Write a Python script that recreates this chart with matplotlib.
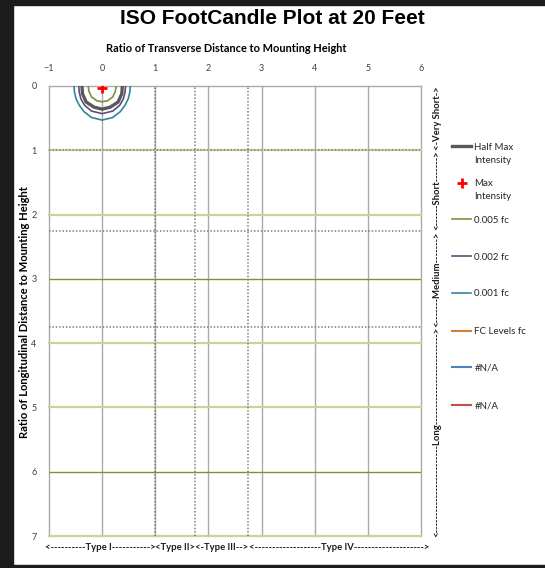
#!/usr/bin/env python3
"""ISO footcandle plot at 20 ft, redrawn as a static matplotlib figure."""
import matplotlib
matplotlib.use("Agg")
import matplotlib.pyplot as plt
from matplotlib.patches import Rectangle

# --- data ------------------------------------------------------------------
x_ticks = [-1, 0, 1, 2, 3, 4, 5, 6]
y_ticks = [0, 1, 2, 3, 4, 5, 6, 7]

# iso-footcandle contours (transverse ratio, longitudinal ratio)
fc001_x = [-0.53, -0.52, -0.49, -0.43, -0.34, -0.20, 0.0, 0.20, 0.34, 0.43, 0.49, 0.52, 0.53]
fc001_y = [0.0, 0.10, 0.20, 0.30, 0.40, 0.49, 0.53, 0.49, 0.40, 0.30, 0.20, 0.10, 0.0]
fc002_x = [-0.44, -0.43, -0.40, -0.33, -0.20, 0.0, 0.20, 0.33, 0.40, 0.43, 0.44]
fc002_y = [0.0, 0.10, 0.20, 0.30, 0.39, 0.43, 0.39, 0.30, 0.20, 0.10, 0.0]
half_max_x = [-0.38, -0.37, -0.30, -0.15, 0.0, 0.15, 0.30, 0.37, 0.38]
half_max_y = [0.0, 0.12, 0.25, 0.33, 0.36, 0.33, 0.25, 0.12, 0.0]
fc005_x = [-0.26, -0.25, -0.20, -0.10, 0.0, 0.10, 0.20, 0.25, 0.26]
fc005_y = [0.0, 0.08, 0.17, 0.23, 0.245, 0.23, 0.17, 0.08, 0.0]
max_x = [0.0]
max_y = [0.036]

# horizontal level lines (light / dark green) and the dotted classification lines
light_rows = [1, 2, 4, 5, 7]
dark_rows = [3, 6]
dotted_x = [1, 1.75, 2.75]
dotted_y = [1, 2.25, 3.75]

# lateral types along the bottom, longitudinal zones down the right side
type_labels = ["Type I", "Type II", "Type III", "Type IV"]
type_bounds = [-1.07, 1, 1.75, 2.75, 6.17]
zone_labels = ["Very Short", "Short", "Medium", "Long"]
zone_bounds = [0, 1, 2.25, 3.75, 7]

# legend rows: first line, optional second line, pixel row of the handle
legend_labels = ["Half Max", "Max", "0.005 fc", "0.002 fc",
                 "0.001 fc", "FC Levels fc", "#N/A", "#N/A"]
legend_second = ["Intensity", "Intensity", "", "", "", "", "", ""]
legend_rows_px = [147, 183.5, 220.4, 257, 293.7, 331.7, 368.3, 405.7]

W, H = 545, 568
FONT = "Lato"

fig = plt.figure(figsize=(W / 100, H / 100), dpi=100)
fig.patch.set_facecolor("white")
# dark frame of the screenshot
for (x0, y0, w, h) in [(0, 0, 13, H), (0, H - 5, W, 5), (0, 0, W, 3)]:
    fig.patches.append(Rectangle((x0 / W, y0 / H), w / W, h / H,
                                 transform=fig.transFigure, color="#1c1c1c", zorder=0))

ax = fig.add_axes([49 / W, 32 / H, 372 / W, 450 / H])
ax.set_xlim(-1, 6)
ax.set_ylim(7, 0)
for s in ax.spines.values():
    s.set_visible(False)

ax.xaxis.tick_top()
ax.set_xticks(x_ticks)
ax.set_yticks(y_ticks)
ax.tick_params(length=0, labelsize=6.5, labelcolor="#404040")
ax.tick_params(axis="x", pad=9)
ax.tick_params(axis="y", pad=9)
for lab in ax.get_xticklabels() + ax.get_yticklabels():
    lab.set_family(FONT)

# grid
for xv in x_ticks:
    ax.axvline(xv, color="#aaaaaa", lw=1.0, zorder=1, clip_on=False)
ax.axhline(0, color="#aaaaaa", lw=1.0, zorder=1, clip_on=False)
for yv in light_rows:
    ax.axhline(yv, color="#c3d69b", lw=1.6, zorder=2, clip_on=False)
for yv in dark_rows:
    ax.axhline(yv, color="#77933c", lw=1.0, zorder=2)
for xv in dotted_x:
    ax.axvline(xv, color="#7f7f7f", lw=1.1, ls=(0, (1, 1.2)), zorder=3)
for yv in dotted_y:
    ax.axhline(yv, color="#7f7f7f", lw=1.1, ls=(0, (1, 1.2)), zorder=3)

# series
h_half, = ax.plot(half_max_x, half_max_y, color="#595959", lw=2.4, zorder=5)
h_max, = ax.plot(max_x, max_y, ls="none", marker="+", color="#ff0000",
                 ms=7, mew=2, zorder=7)
h_005, = ax.plot(fc005_x, fc005_y, color="#77933c", lw=1.2, zorder=6)
h_002, = ax.plot(fc002_x, fc002_y, color="#604a7b", lw=1.2, zorder=5)
h_001, = ax.plot(fc001_x, fc001_y, color="#31859c", lw=1.2, zorder=5)
h_fcl, = ax.plot([], [], color="#d0803a", lw=1.5)
h_na1, = ax.plot([], [], color="#4f81bd", lw=1.5)
h_na2, = ax.plot([], [], color="#c0504d", lw=1.5)
handles = [h_half, h_max, h_005, h_002, h_001, h_fcl, h_na1, h_na2]

# titles
fig.text(0.5, 1 - 19 / H, "ISO FootCandle Plot at 20 Feet", ha="center", va="center",
         fontsize=15, fontweight="bold", family="Liberation Sans")
fig.text(226 / W, 1 - 48 / H, "Ratio of Transverse Distance to Mounting Height",
         ha="center", va="center", fontsize=7.9, fontweight="bold", family=FONT)
fig.text(25 / W, 1 - 312 / H, "Ratio of Longitudinal Distance to Mounting Height",
         ha="center", va="center", rotation=90, fontsize=8.1, fontweight="bold", family=FONT)

# legend: one entry per row so the rows keep Excel's even spacing
legends = []
for h, lab, ypx in zip(handles, legend_labels, legend_rows_px):
    leg = fig.legend([h], [lab], loc="center left", bbox_to_anchor=(452 / W, 1 - ypx / H),
                     frameon=False, handlelength=2.0, handletextpad=0.3, borderpad=0,
                     borderaxespad=0, prop={"family": FONT, "size": 7})
    for t in leg.get_texts():
        t.set_color("#262626")
    legends.append(leg)

fig.canvas.draw()
renderer = fig.canvas.get_renderer()

for leg, second, ypx in zip(legends, legend_second, legend_rows_px):
    if not second:
        continue
    x0 = leg.get_texts()[0].get_window_extent(renderer).x0
    fig.text(x0 / W, 1 - (ypx + 13) / H, second, ha="left", va="center",
             family=FONT, fontsize=7, color="#262626")

# dashed range labels
LBL = dict(fontsize=6.8, fontweight="bold", family=FONT, color="#1a1a1a")


def text_width(s):
    t = fig.text(0, 0, s, **LBL)
    w = t.get_window_extent(renderer).width
    t.remove()
    return w


dash_w = text_width("-" * 40) / 40.0


def range_string(label, span_px):
    core = "<" + label + ">"
    n = max(0, int(round((span_px - text_width(core)) / dash_w)))
    left = n // 2
    return "<" + "-" * left + label + "-" * (n - left) + ">"


to_px = ax.transData.transform
for lab, a, b in zip(type_labels, type_bounds[:-1], type_bounds[1:]):
    xa = to_px((a, 7))[0]
    xb = to_px((b, 7))[0]
    fig.text((xa + xb) / 2 / W, 1 - 548 / H, range_string(lab, xb - xa),
             ha="center", va="center", **LBL)

for lab, a, b in zip(zone_labels, zone_bounds[:-1], zone_bounds[1:]):
    ya = to_px((6, a))[1]
    yb = to_px((6, b))[1]
    fig.text(437 / W, (ya + yb) / 2 / H, range_string(lab, abs(ya - yb)),
             ha="center", va="center", rotation=90, **LBL)

fig.savefig("out.png", dpi=100)
